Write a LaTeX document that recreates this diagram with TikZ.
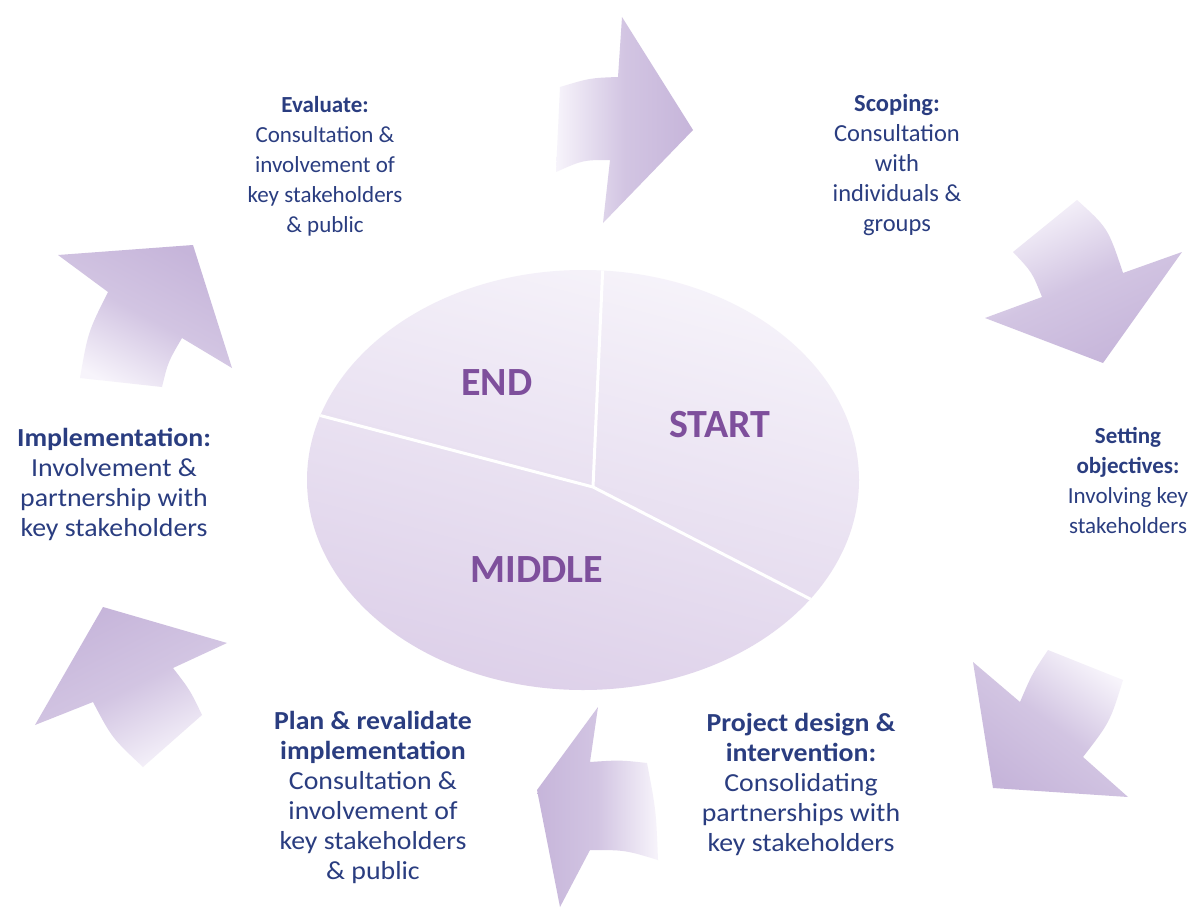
\documentclass[tikz,border=0pt]{standalone}
\usepackage{fontspec}
\setmainfont{Carlito}
\newfontfamily\widecal{Carlito}[FakeStretch=1.07]
\definecolor{txt}{HTML}{2A3D80}
\definecolor{lbl}{HTML}{7E4F9C}
\definecolor{headc}{HTML}{C6B5DA}
\definecolor{tailc}{HTML}{F7F4FB}
\definecolor{pietop}{HTML}{F6F3FA}
\definecolor{piebot}{HTML}{DDD0E9}
\begin{document}
\begin{tikzpicture}[x=1pt,y=-1pt,
  info/.style={align=center,text=txt,font=\fontsize{23}{30}\selectfont,inner sep=0pt},
  infobig/.style={info,font=\widecal\fontsize{26}{30}\selectfont},
  phase/.style={text=lbl,font=\fontsize{40}{48}\selectfont\bfseries,inner sep=0pt},
  cyc/.style={left color=tailc,right color=headc,middle color=headc!75!tailc,draw=none},
  divider/.style={draw=white,line width=3pt}]
\useasboundingbox (0,0) rectangle (1190,912);
\fill[white] (0,0) rectangle (1190,912);

% central ellipse (pie)
\coordinate (hub) at (593,487);
\shade[top color=pietop,bottom color=piebot,shading angle=-15] (583,480) ellipse [x radius=276, y radius=210];
\begin{scope}
  \clip (583,480) ellipse [x radius=276, y radius=210];
  \coordinate (d1) at (604,240);
  \coordinate (d2) at (280,405);
  \coordinate (d3) at (880,635);
  \draw[divider] (hub) -- (d1);
  \draw[divider] (hub) -- (d2);
  \draw[divider] (hub) -- (d3);
\end{scope}
\node[phase] (endp) at (497,383) {END};
\node[phase] (startp) at (720,425) {START};
\node[phase] (middlep) at (537,570) {MIDDLE};

% arrows (shading angle = direction of travel + 90)
\shade[cyc,shading angle=90] (560,87) .. controls (590,78) .. (618,77) -- (622,17) -- (693,130) -- (603,223) -- (610,160) .. controls (583,160) .. (556,172) -- cycle;
\shade[cyc,shading angle=25] (1013,252) -- (1077,200) .. controls (1108,228) .. (1123,273) -- (1182,252) -- (1103,363) -- (985,318) -- (1042,297) .. controls (1032,272) .. cycle;
\shade[cyc,shading angle=-37] (973,662) -- (1020,702) .. controls (1032,674) .. (1048,650) -- (1123,680) .. controls (1110,722) .. (1083,757) -- (1128,797) -- (993,788) -- cycle;
\shade[cyc,shading angle=270] (598,707) -- (590,762) .. controls (620,760) .. (647,763) .. controls (656,810) .. (658,860) .. controls (625,850) .. (590,850) -- (560,907) -- (537,790) -- cycle;
\shade[cyc,shading angle=207] (103,607) -- (227,643) -- (173,668) .. controls (190,690) .. (202,715) -- (143,767) .. controls (112,738) .. (93,702) -- (35,725) -- cycle;
\shade[cyc,shading angle=152] (58,255) -- (193,245) -- (232,368) -- (182,338) .. controls (168,362) .. (162,387) -- (80,378) .. controls (88,332) .. (108,292) -- cycle;

% texts
\node[info] (evaluate) at (325,166) {\textbf{Evaluate:}\\Consultation \&\\involvement of\\key stakeholders\\\& public};
\node[info,font=\fontsize{24.5}{30}\selectfont] (scoping) at (897,165) {\textbf{Scoping:}\\Consultation\\with\\individuals \&\\groups};
\node[info] (setting) at (1128,480) {\textbf{Setting}\\\textbf{objectives:}\\Involving key\\stakeholders};
\node[infobig] (implementation) at (114,484) {\textbf{Implementation:}\\Involvement \&\\partnership with\\key stakeholders};
\node[infobig] (project) at (801,784) {\textbf{Project design \&}\\\textbf{intervention:}\\Consolidating\\partnerships with\\key stakeholders};
\node[infobig] (plan) at (373,797) {\textbf{Plan \& revalidate}\\\textbf{implementation}\\Consultation \&\\involvement of\\key stakeholders\\\& public};
\end{tikzpicture}
\end{document}
